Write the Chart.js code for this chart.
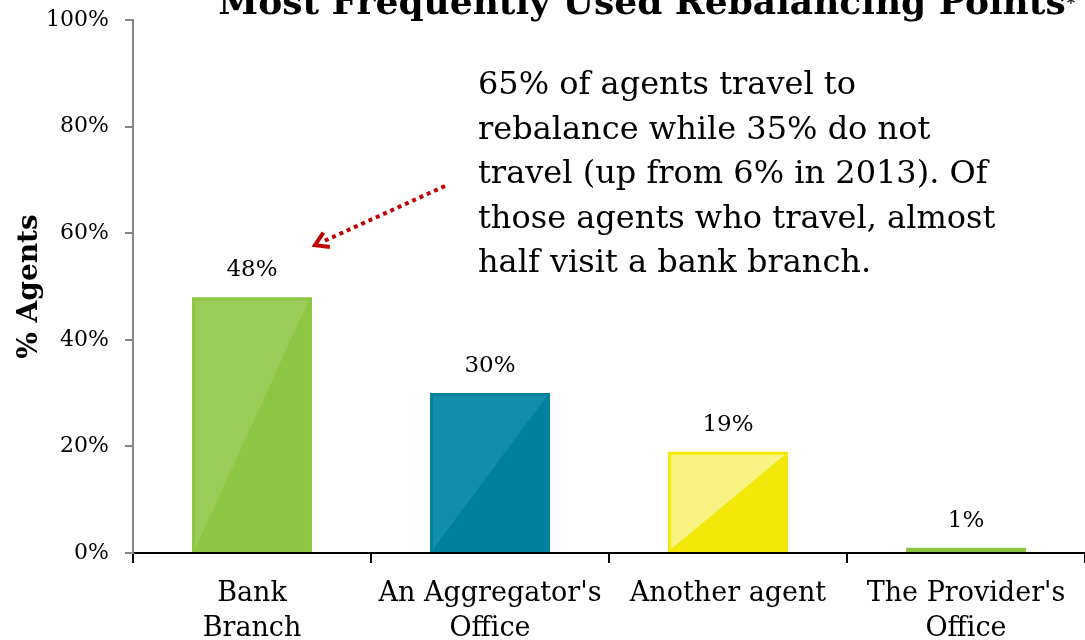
<!DOCTYPE html>
<html>
<head>
<meta charset="utf-8">
<script src="https://cdn.jsdelivr.net/npm/chart.js@4.4.1/dist/chart.umd.min.js"></script>
<style>
  html, body { margin: 0; padding: 0; background: #fff; }
  #wrap { width: 1085px; height: 640px; position: relative; overflow: hidden; }
</style>
</head>
<body>
<div id="wrap"><canvas id="chart" width="1085" height="640"></canvas></div>
<script>
const categories = [['Bank', 'Branch'], ["An Aggregator's", 'Office'], 'Another agent', ["The Provider's", 'Office']];
const agentShare = [48, 30, 19, 1];
const barColors = ['#8dc642', '#00809f', '#f2e90b', '#8dc642'];
const shineColors = ['#9bcb58', '#148dad', '#f9f384', '#9bcb58'];
const yTicks = [0, 20, 40, 60, 80, 100];

const titleText = 'Most Frequently Used Rebalancing Points';
const noteLines = [
  '65% of agents travel to',
  'rebalance while 35% do not',
  'travel (up from 6% in 2013). Of',
  'those agents who travel, almost',
  'half visit a bank branch.'
];

const SERIF = '"DejaVu Serif", Georgia, serif';

// light triangle on each bar, value labels, title, note and arrow
const decorations = {
  id: 'decorations',
  afterDatasetsDraw(chart) {
    const ctx = chart.ctx;
    const meta = chart.getDatasetMeta(0);
    meta.data.forEach((bar, i) => {
      const left = bar.x - bar.width / 2;
      const right = bar.x + bar.width / 2;
      const top = bar.y;
      const bottom = bar.base;
      if (bottom - top > 8) {
        ctx.save();
        ctx.fillStyle = shineColors[i];
        ctx.beginPath();
        ctx.moveTo(left + 3, top + 3);
        ctx.lineTo(right - 3, top + 3);
        ctx.lineTo(left + 3, bottom - 3);
        ctx.closePath();
        ctx.fill();
        ctx.restore();
      }
      ctx.save();
      ctx.fillStyle = '#000';
      ctx.font = '23px ' + SERIF;
      ctx.textAlign = 'center';
      ctx.textBaseline = 'middle';
      ctx.fillText(agentShare[i] + '%', bar.x, top - 27);
      ctx.restore();
    });
  },
  afterDraw(chart) {
    const ctx = chart.ctx;
    const area = chart.chartArea;
    ctx.save();
    // title, clipped by the top edge
    ctx.fillStyle = '#000';
    ctx.font = 'bold 36px ' + SERIF;
    ctx.textBaseline = 'alphabetic';
    ctx.textAlign = 'center';
    const tw = ctx.measureText(titleText).width;
    const cx = 642;
    ctx.fillText(titleText, cx, 14);
    ctx.font = 'bold 16px ' + SERIF;
    ctx.textAlign = 'left';
    ctx.fillText('*', cx + tw / 2 + 1, 8);

    // y axis title
    ctx.save();
    ctx.translate(30, (area.top + area.bottom) / 2);
    ctx.rotate(-Math.PI / 2);
    ctx.font = 'bold 28px ' + SERIF;
    ctx.textAlign = 'center';
    ctx.textBaseline = 'middle';
    ctx.fillText('% Agents', 0, 0);
    ctx.restore();

    // note
    ctx.font = '32px ' + SERIF;
    ctx.textAlign = 'left';
    ctx.textBaseline = 'middle';
    noteLines.forEach((line, k) => {
      ctx.fillText(line, 478, 86 + k * 44.5);
    });

    // dotted arrow pointing at the first bar
    const bar = chart.getDatasetMeta(0).data[0];
    const tipX = bar.x + 63, tipY = bar.y - 52;
    const tailX = 445, tailY = 186;
    const ang = Math.atan2(tipY - tailY, tipX - tailX);
    ctx.strokeStyle = '#c00000';
    ctx.lineWidth = 4;
    ctx.setLineDash([4, 4]);
    ctx.beginPath();
    ctx.moveTo(tailX, tailY);
    ctx.lineTo(tipX - 8 * Math.cos(ang), tipY - 8 * Math.sin(ang));
    ctx.stroke();
    ctx.setLineDash([]);
    ctx.lineWidth = 4;
    ctx.lineJoin = 'miter';
    ctx.beginPath();
    const hl = 15, ha = 0.55;
    ctx.moveTo(tipX - hl * Math.cos(ang - ha), tipY - hl * Math.sin(ang - ha));
    ctx.lineTo(tipX, tipY);
    ctx.lineTo(tipX - hl * Math.cos(ang + ha), tipY - hl * Math.sin(ang + ha));
    ctx.stroke();
    ctx.restore();
  }
};

new Chart(document.getElementById('chart').getContext('2d'), {
  type: 'bar',
  data: {
    labels: categories,
    datasets: [{
      label: '% Agents',
      data: agentShare,
      backgroundColor: barColors,
      borderWidth: 0,
      categoryPercentage: 1,
      barPercentage: 0.504
    }]
  },
  options: {
    responsive: false,
    animation: false,
    layout: { padding: { top: 20, right: 0, left: 0, bottom: 0 } },
    plugins: {
      legend: { display: false },
      tooltip: { enabled: false },
      title: { display: false }
    },
    scales: {
      x: {
        afterFit: s => { s.height = 87; s.paddingLeft = 0; s.paddingRight = 0; },
        grid: { display: true, drawOnChartArea: false, offset: true, tickLength: 10, color: '#000', lineWidth: 2 },
        border: { display: true, color: '#000', width: 2 },
        ticks: {
          color: '#000',
          padding: 13,
          maxRotation: 0,
          autoSkip: false,
          font: { family: SERIF, size: 27, lineHeight: 1.3 }
        }
      },
      y: {
        min: 0,
        max: 100,
        afterFit: s => { s.width = 133; s.paddingTop = 0; s.paddingBottom = 0; },
        afterBuildTicks: s => { s.ticks = yTicks.map(v => ({ value: v })); },
        grid: { display: true, drawOnChartArea: false, tickLength: 8, color: '#868686', lineWidth: 2 },
        border: { display: true, color: '#868686', width: 2 },
        ticks: {
          color: '#000',
          padding: 16,
          font: { family: SERIF, size: 22 },
          callback: v => v + '%'
        }
      }
    }
  },
  plugins: [decorations]
});
</script>
</body>
</html>
